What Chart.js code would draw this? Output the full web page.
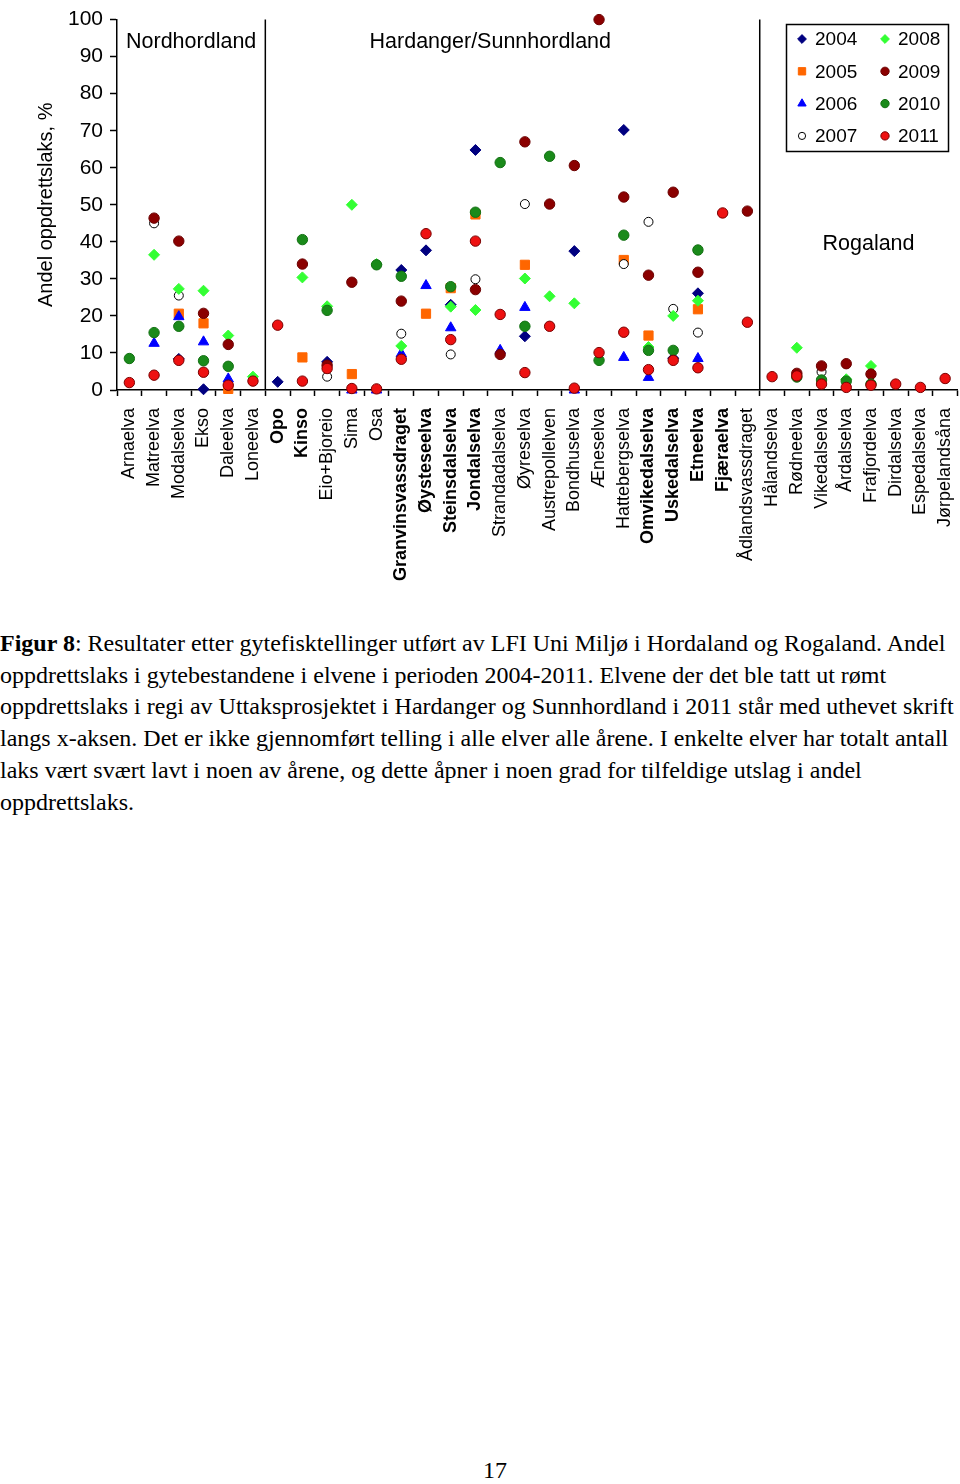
<!DOCTYPE html>
<html>
<head>
<meta charset="utf-8">
<script src="https://cdn.jsdelivr.net/npm/chart.js@4/dist/chart.umd.min.js"></script>
<style>
  body { margin: 0; background: #fff; width: 960px; height: 1484px; position: relative; overflow: hidden; }
  #wrap { position: absolute; left: 0; top: 0; width: 965px; height: 600px; }
  #caption { position: absolute; left: 0; top: 628px; font-family: "Liberation Serif", serif; font-size: 24px;
             line-height: 31.7px; white-space: nowrap; color: #000; }
  #page { position: absolute; top: 1457px; left: 483px; font-family: "Liberation Serif", serif; font-size: 24px; }
</style>
</head>
<body>
<div id="wrap"><canvas id="myChart"></canvas></div>
<div id="caption">
<b>Figur 8</b>: Resultater etter gytefisktellinger utført av LFI Uni Miljø i Hordaland og Rogaland. Andel<br>
oppdrettslaks i gytebestandene i elvene i perioden 2004-2011. Elvene der det ble tatt ut rømt<br>
oppdrettslaks i regi av Uttaksprosjektet i Hardanger og Sunnhordland i 2011 står med uthevet skrift<br>
langs x-aksen. Det er ikke gjennomført telling i alle elver alle årene. I enkelte elver har totalt antall<br>
laks vært svært lavt i noen av årene, og dette åpner i noen grad for tilfeldige utslag i andel<br>
oppdrettslaks.
</div>
<div id="page">17</div>
<script>
var rivers = ['Arnaelva', 'Matreelva', 'Modalselva', 'Ekso', 'Daleelva', 'Loneelva',
    'Opo', 'Kinso', 'Eio+Bjoreio', 'Sima', 'Osa', 'Granvinsvassdraget',
    'Øysteseelva', 'Steinsdalselva', 'Jondalselva', 'Strandadalselva', 'Øyreselva', 'Austrepollelven',
    'Bondhuselva', 'Æneselva', 'Hattebergselva', 'Omvikedalselva', 'Uskedalselva', 'Etneelva',
    'Fjæraelva', 'Ådlandsvassdraget', 'Hålandselva', 'Rødneelva', 'Vikedalselva', 'Årdalselva',
    'Frafjordelva', 'Dirdalselva', 'Espedalselva', 'Jørpelandsåna'];

// rivers printed in bold (uttak 2011)
var boldRivers = [6, 7, 11, 12, 13, 14, 21, 22, 23, 24];

var y2004 = [null, null, 8.4, 0.2, null, null,
    2.2, null, 7.6, null, null, 32.4,
    37.7, 23, 64.8, null, 14.5, null,
    37.5, null, 70.2, null, 8.6, 26.1,
    null, null, null, null, null, null,
    null, null, null, null];
var y2005 = [null, null, 20.6, 18, 0.3, null,
    null, 8.8, null, 4.3, null, null,
    20.6, 27.5, 47.4, null, 33.8, null,
    null, null, 35.1, 14.7, null, 21.8,
    null, null, null, null, null, null,
    null, null, null, null];
var y2006 = [null, 12.6, 19.8, 13, 3, null,
    null, null, null, 0, 0, 9.8,
    28.2, 16.8, null, 10.7, 22.3, null,
    0, null, 8.8, 3.4, null, 8.5,
    null, null, null, null, null, null,
    null, null, null, null];
var y2007 = [null, 45, 25.5, null, null, null,
    null, null, 3.6, null, null, 15.2,
    null, 9.6, 29.9, null, 50.2, null,
    null, null, 34, 45.4, 21.9, 15.5,
    null, null, null, null, 4.9, null,
    null, null, null, null];
var y2008 = [null, 36.5, 27.3, 26.8, 14.7, 3.6,
    null, 30.4, 22.6, 50, 34, 11.9,
    null, 22.5, 21.6, null, 30.1, 25.3,
    23.4, null, null, 11.6, 20, 24.1,
    null, null, null, 11.4, null, 2.9,
    6.5, null, null, null];
var y2009 = [null, 46.4, 40.2, 20.7, 12.3, null,
    null, 34, 6.7, 29.1, null, 24,
    null, null, 27.1, 9.6, 67, 50.2,
    60.6, 100, 52.1, 31, 53.4, 31.8,
    null, 48.3, null, 4.5, 6.5, 7.1,
    4.3, null, null, null];
var y2010 = [8.5, 15.5, 17.2, 7.9, 6.4, null,
    null, 40.6, 21.5, null, 33.8, 30.7,
    null, 27.9, 48, 61.4, 17.2, 63.1,
    null, 8, 41.8, 10.7, 10.7, 37.8,
    null, null, null, 3.5, 2.7, 2.4,
    1.6, null, null, null];
var y2011 = [2, 4, 8, 4.8, 1.3, 2.4,
    17.5, 2.4, 5.8, 0.4, 0.3, 8.3,
    42.2, 13.6, 40.2, 20.4, 4.7, 17.2,
    0.5, 10.1, 15.6, 5.5, 8, 6,
    47.8, 18.3, 3.6, 3.8, 1.6, 0.7,
    1.3, 1.6, 0.7, 3.1];

var years = ['2004', '2005', '2006', '2007', '2008', '2009', '2010', '2011'];
var yTicks = [0, 10, 20, 30, 40, 50, 60, 70, 80, 90, 100];

var styles = [
    {data: y2004, shape: 'rectRot', fill: '#000080', line: '#000080', r: 5.5},
    {data: y2005, shape: 'rect', fill: '#FF6600', line: '#FF6600', r: 6.5},
    {data: y2006, shape: 'triangle', fill: '#0000FF', line: '#0000FF', r: 6},
    {data: y2007, shape: 'circle', fill: '#FFFFFF', line: '#000000', r: 4.5},
    {data: y2008, shape: 'rectRot', fill: '#33FF33', line: '#33FF33', r: 5.5},
    {data: y2009, shape: 'circle', fill: '#8B0000', line: '#6B0000', r: 5.2},
    {data: y2010, shape: 'circle', fill: '#1A8A1A', line: '#137013', r: 5.2},
    {data: y2011, shape: 'circle', fill: '#EE1111', line: '#7A0000', r: 5.2}
];

var datasets = styles.map(function (s, i) {
    return {
        label: years[i],
        data: s.data,
        showLine: false,
        pointStyle: s.shape,
        pointRadius: s.r,
        pointBackgroundColor: s.fill,
        pointBorderColor: s.line,
        pointBorderWidth: 1,
        order: 7 - i,
        clip: false
    };
});

var extras = {
    id: 'extras',
    beforeDatasetsDraw: function (chart) {
        var c = chart.ctx, x = chart.scales.x, y = chart.scales.y;
        c.save();
        c.strokeStyle = '#000';
        c.lineWidth = 1.5;
        [5.5, 25.5].forEach(function (v) {
            var px = x.getPixelForValue(v);
            c.beginPath();
            c.moveTo(px, y.getPixelForValue(100));
            c.lineTo(px, y.getPixelForValue(0));
            c.stroke();
        });
        c.fillStyle = '#000';
        c.font = '21.5px "Liberation Sans", Arial';
        c.textBaseline = 'middle';
        c.textAlign = 'center';
        c.fillText('Nordhordland', x.getPixelForValue(2.5), y.getPixelForValue(93.8));
        c.fillText('Hardanger/Sunnhordland', x.getPixelForValue(14.6), y.getPixelForValue(93.8));
        c.fillText('Rogaland', x.getPixelForValue(29.9), y.getPixelForValue(39.4));
        c.restore();
    },
    afterDatasetsDraw: function (chart) {
        var c = chart.ctx;
        c.save();
        c.fillStyle = '#fff';
        c.fillRect(786, 24, 163, 128);
        c.strokeStyle = '#000';
        c.lineWidth = 1.5;
        c.strokeRect(786.5, 24.5, 162, 127);
        c.font = '19px "Liberation Sans", Arial';
        c.textBaseline = 'middle';
        c.textAlign = 'left';
        styles.forEach(function (s, i) {
            var col = Math.floor(i / 4), row = i % 4;
            var mx = 802 + col * 83, my = 39 + row * 32.3;
            c.fillStyle = s.fill;
            c.strokeStyle = s.line;
            c.lineWidth = 1;
            Chart.helpers.drawPoint(c, {pointStyle: s.shape, radius: s.r * 0.8, rotation: 0, borderWidth: 1}, mx, my);
            c.fillStyle = '#000';
            c.fillText(years[i], mx + 13, my + 1);
        });
        c.restore();
    }
};

var ctx = document.getElementById('myChart').getContext('2d');
var myChart = new Chart(ctx, {
    type: 'line',
    data: {
        labels: rivers,
        datasets: datasets
    },
    options: {
        responsive: true,
        maintainAspectRatio: false,
        animation: false,
        layout: {padding: {top: 17, right: 0, left: 0, bottom: 0}},
        plugins: {
            legend: {display: false},
            tooltip: {enabled: false}
        },
        scales: {
            x: {
                offset: true,
                afterFit: function (s) { s.height = 210; s.paddingLeft = 0; s.paddingRight = 0; },
                grid: {offset: true, drawOnChartArea: false, tickLength: 6, color: '#000', tickWidth: 1.5},
                border: {color: '#000', width: 1.5},
                ticks: {
                    autoSkip: false,
                    minRotation: 90,
                    maxRotation: 90,
                    padding: 12,
                    color: '#000',
                    font: function (c) {
                        return {
                            family: '"Liberation Sans", Arial',
                            size: 18,
                            weight: boldRivers.indexOf(c.index) >= 0 ? 'bold' : 'normal'
                        };
                    }
                }
            },
            y: {
                min: 0,
                max: 100,
                afterFit: function (s) { s.width = 117; },
                afterBuildTicks: function (s) { s.ticks = yTicks.map(function (v) { return {value: v}; }); },
                grid: {drawOnChartArea: false, tickLength: 7, color: '#000', tickWidth: 1.5},
                border: {color: '#000', width: 1.5},
                ticks: {
                    padding: 7,
                    color: '#000',
                    font: {family: '"Liberation Sans", Arial', size: 21}
                },
                title: {
                    display: true,
                    text: 'Andel oppdrettslaks, %',
                    color: '#000',
                    font: {family: '"Liberation Sans", Arial', size: 20},
                    padding: {top: 34, bottom: 0}
                }
            }
        }
    },
    plugins: [extras]
});
</script>
</body>
</html>
